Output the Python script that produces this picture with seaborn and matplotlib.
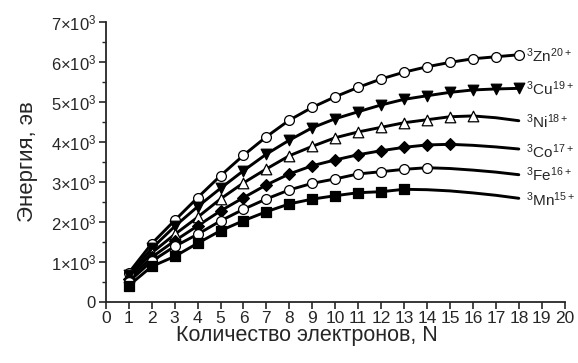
import numpy as np
import pandas as pd
import matplotlib
matplotlib.use("Agg")
import matplotlib.pyplot as plt
import seaborn as sns
from matplotlib.ticker import MultipleLocator

# Measured points (number of electrons N = 1 .. last marker)
zn_pts = [720, 1450, 2030, 2600, 3150, 3660, 4125, 4540, 4860, 5125, 5360, 5570, 5740, 5875, 5985, 6075, 6125, 6175]
cu_pts = [660, 1330, 1880, 2375, 2835, 3275, 3690, 4040, 4350, 4575, 4750, 4920, 5060, 5150, 5235, 5295, 5320, 5335]
ni_pts = [620, 1220, 1680, 2110, 2570, 2970, 3320, 3650, 3885, 4100, 4245, 4360, 4475, 4550, 4625, 4645]
co_pts = [560, 1110, 1520, 1895, 2270, 2600, 2920, 3195, 3400, 3545, 3675, 3775, 3860, 3920, 3935]
fe_pts = [500, 1010, 1380, 1685, 2020, 2310, 2570, 2795, 2960, 3070, 3195, 3250, 3310, 3350]
mn_pts = [400, 880, 1130, 1460, 1775, 2025, 2250, 2445, 2565, 2650, 2725, 2750, 2810]

# Fitted curve continues past the last measured point up to N = 18
zn_tail = []
cu_tail = []
ni_tail = [4600, 4525]
co_tail = [3910, 3870, 3818]
fe_tail = [3330, 3290, 3240, 3175]
mn_tail = [2800, 2770, 2720, 2660, 2585]

labels = [r"$^{3}$Zn$^{20+}$", r"$^{3}$Cu$^{19+}$", r"$^{3}$Ni$^{18+}$",
          r"$^{3}$Co$^{17+}$", r"$^{3}$Fe$^{16+}$", r"$^{3}$Mn$^{15+}$"]
label_y = [6150, 5320, 4500, 3750, 3170, 2545]

series = [
    (zn_pts, zn_tail, "o", "white"),
    (cu_pts, cu_tail, "v", "black"),
    (ni_pts, ni_tail, "^", "white"),
    (co_pts, co_tail, "D", "black"),
    (fe_pts, fe_tail, "o", "white"),
    (mn_pts, mn_tail, "s", "black"),
]

sns.set_style("ticks")
plt.rcParams["font.family"] = ["Liberation Sans", "DejaVu Sans"]
plt.rcParams["mathtext.default"] = "regular"

fig = plt.figure(figsize=(5.78, 3.63), dpi=100)
ax = fig.add_axes([0.183, 0.169, 0.794, 0.771])

for pts, tail, mk, face in series:
    curve = pts + tail
    n_line = np.arange(1, len(curve) + 1)
    sns.lineplot(x=n_line, y=curve, ax=ax, color="black", linewidth=2.1, zorder=2)
    n_pts = np.arange(1, len(pts) + 1)
    ms = 50 if mk in ("o", "s") else 58
    if mk == "D":
        ms = 36
    sns.scatterplot(x=n_pts, y=pts, ax=ax, marker=mk, s=ms, color=face,
                    edgecolor="black", linewidth=0.9, zorder=3)

for lab, yv in zip(labels, label_y):
    ax.text(18.3, yv, lab, fontsize=11, va="center", ha="left", clip_on=False)

ax.set_xlim(0, 20)
ax.set_ylim(0, 7000)
ax.xaxis.set_major_locator(MultipleLocator(1))
ax.yaxis.set_major_locator(MultipleLocator(1000))
ax.yaxis.set_minor_locator(MultipleLocator(500))
ax.set_yticks(range(0, 7001, 1000))
ax.set_yticklabels(["0"] + [rf"${k}{{\times}}10^{{3}}$" for k in range(1, 8)])
ax.tick_params(axis="both", which="major", direction="out", length=5, width=1.2, labelsize=12.5, pad=2)
ax.tick_params(axis="y", which="major", labelsize=12)
ax.tick_params(axis="y", which="minor", direction="out", length=3, width=1.0)

sns.despine(ax=ax)
for side in ("left", "bottom"):
    ax.spines[side].set_linewidth(1.3)

ax.set_xlabel("Количество электронов, N", fontsize=15.5, labelpad=1)
ax.xaxis.set_label_coords(0.438, -0.085)
ax.set_ylabel("Энергия, эв", fontsize=16, labelpad=9)

fig.savefig("out.png", dpi=100)
